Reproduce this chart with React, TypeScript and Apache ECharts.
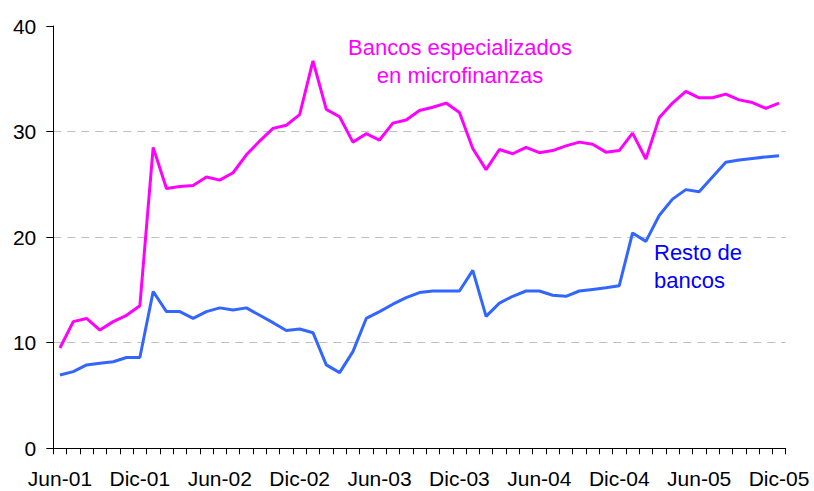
import React, { useEffect, useRef } from "react";
import * as echarts from "echarts";

const months: string[] = [
  "Jun-01", "Jul-01", "Ago-01", "Sep-01", "Oct-01", "Nov-01", "Dic-01",
  "Ene-02", "Feb-02", "Mar-02", "Abr-02", "May-02", "Jun-02", "Jul-02", "Ago-02", "Sep-02", "Oct-02", "Nov-02", "Dic-02",
  "Ene-03", "Feb-03", "Mar-03", "Abr-03", "May-03", "Jun-03", "Jul-03", "Ago-03", "Sep-03", "Oct-03", "Nov-03", "Dic-03",
  "Ene-04", "Feb-04", "Mar-04", "Abr-04", "May-04", "Jun-04", "Jul-04", "Ago-04", "Sep-04", "Oct-04", "Nov-04", "Dic-04",
  "Ene-05", "Feb-05", "Mar-05", "Abr-05", "May-05", "Jun-05", "Jul-05", "Ago-05", "Sep-05", "Oct-05", "Nov-05", "Dic-05",
];

const bancosMicrofinanzas: number[] = [
  9.5, 12.0, 12.3, 11.2, 12.0, 12.6, 13.5,
  28.5, 24.6, 24.8, 24.9, 25.7, 25.4, 26.1, 27.8, 29.1, 30.3, 30.6, 31.6,
  36.7, 32.1, 31.4, 29.0, 29.8, 29.2, 30.8, 31.1, 32.0, 32.3, 32.7, 31.8,
  28.4, 26.4, 28.3, 27.9, 28.5, 28.0, 28.2, 28.65, 29.0, 28.8, 28.05, 28.2,
  29.85, 27.4, 31.3, 32.7, 33.8, 33.2, 33.2, 33.55, 33.0, 32.75, 32.2, 32.7,
];

const restoBancos: number[] = [
  6.95, 7.26, 7.9, 8.06, 8.2, 8.6, 8.6,
  14.85, 12.95, 12.95, 12.3, 12.95, 13.3, 13.1, 13.3, 12.6, 11.9, 11.15, 11.3,
  10.95, 7.9, 7.17, 9.16, 12.3, 12.95, 13.65, 14.27, 14.75, 14.9, 14.9, 14.9,
  16.85, 12.5, 13.75, 14.4, 14.9, 14.9, 14.5, 14.4, 14.9, 15.05, 15.2, 15.4,
  20.4, 19.6, 22.05, 23.6, 24.5, 24.3, 25.7, 27.1, 27.3, 27.45, 27.6, 27.7,
];

const labelMicro = "Bancos especializados\nen microfinanzas";
const labelResto = "Resto de\nbancos";

const FONT = "'Liberation Sans', Arial, sans-serif";

export default function App() {
  const ref = useRef<HTMLDivElement>(null);

  useEffect(() => {
    if (!ref.current) return;
    const chart = echarts.init(ref.current, null, { renderer: "svg" });
    chart.setOption({
      animation: false,
      backgroundColor: "#ffffff",
      textStyle: { fontFamily: FONT },
      grid: {
        left: 53.3,
        right: 28.3,
        top: 26,
        bottom: 42.7,
        containLabel: false,
        outerBoundsMode: "none",
      },
      xAxis: {
        type: "category",
        data: months,
        boundaryGap: true,
        axisLine: { show: true, lineStyle: { color: "#000000", width: 1 } },
        axisTick: {
          show: true,
          interval: 0,
          length: 6,
          inside: false,
          lineStyle: { color: "#000000", width: 1 },
        },
        axisLabel: {
          interval: 5,
          margin: 20,
          color: "#000000",
          fontSize: 21,
          fontFamily: FONT,
        },
        splitLine: { show: false },
      },
      yAxis: {
        type: "value",
        min: 0,
        max: 40,
        interval: 10,
        axisLine: { show: true, lineStyle: { color: "#000000", width: 1 } },
        axisTick: { show: true, length: 7, inside: false, lineStyle: { color: "#000000", width: 1 } },
        axisLabel: {
          margin: 17,
          color: "#000000",
          fontSize: 21,
          fontFamily: FONT,
        },
        splitLine: {
          show: true,
          showMinLine: false,
          showMaxLine: false,
          lineStyle: { color: "#BFBFBF", width: 1, type: [8, 6] },
        },
      },
      series: [
        {
          name: "Bancos especializados en microfinanzas",
          type: "line",
          data: bancosMicrofinanzas,
          showSymbol: false,
          symbol: "none",
          lineStyle: { color: "#FF00FF", width: 3 },
          itemStyle: { color: "#FF00FF" },
          z: 3,
        },
        {
          name: "Resto de bancos",
          type: "line",
          data: restoBancos,
          showSymbol: false,
          symbol: "none",
          lineStyle: { color: "#3366FF", width: 3 },
          itemStyle: { color: "#3366FF" },
          z: 2,
        },
      ],
      graphic: [
        {
          type: "text",
          x: 460,
          y: 33,
          style: {
            text: labelMicro,
            fill: "#FF00FF",
            font: `22px ${FONT}`,
            fontSize: 22,
            fontFamily: FONT,
            align: "center",
            verticalAlign: "top",
            lineHeight: 28,
          },
        },
        {
          type: "text",
          x: 654,
          y: 238,
          style: {
            text: labelResto,
            fill: "#0000FF",
            fontSize: 22,
            fontFamily: FONT,
            align: "left",
            verticalAlign: "top",
            lineHeight: 28,
          },
        },
      ],
    });
    return () => {
      chart.dispose();
    };
  }, []);

  return (
    <div
      ref={ref}
      style={{ position: "fixed", left: 0, top: 0, width: 814, height: 491 }}
    />
  );
}
